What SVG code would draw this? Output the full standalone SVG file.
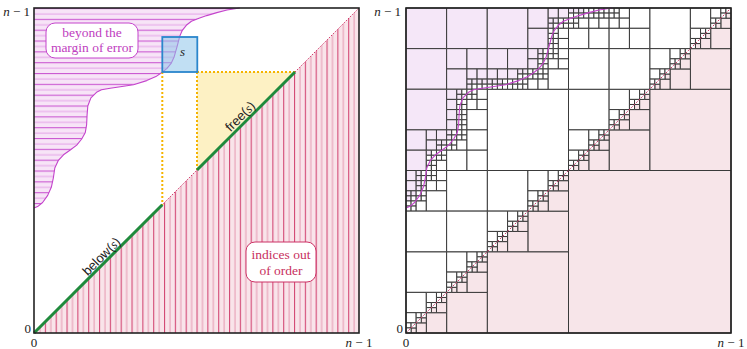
<svg xmlns="http://www.w3.org/2000/svg" width="747" height="349" viewBox="0 0 747 349">
<style>
.w,.p,.v{stroke:#3a3a3a;stroke-width:1;vector-effect:non-scaling-stroke}
.w{fill:#fff}.p{fill:#f7e5e9}.v{fill:#f5e7f8}
.lab{font-family:"Liberation Serif",serif;font-size:13px;fill:#222}
.it{font-style:italic}
.box1{font-family:"Liberation Serif",serif;font-size:13.5px;fill:#c040c0;text-anchor:middle}
.box2{font-family:"Liberation Serif",serif;font-size:13.5px;fill:#c8305e;text-anchor:middle}
.sans{font-family:"Liberation Sans",sans-serif;font-size:13px;fill:#222;text-anchor:middle}
</style>
<defs>
<pattern id="vs" patternUnits="userSpaceOnUse" x="34" y="0" width="10.833" height="10">
<rect width="10.833" height="10" fill="#f9e4ea"/>
<line x1="0.6" y1="0" x2="0.6" y2="10" stroke="#cf3868" stroke-width="1"/>
<line x1="6" y1="0" x2="6" y2="10" stroke="#e597b0" stroke-width="1"/>
</pattern>
<pattern id="hs" patternUnits="userSpaceOnUse" x="0" y="8" width="10" height="10.833">
<rect width="10" height="10.833" fill="#f7e4f7"/>
<line x1="0" y1="0.6" x2="10" y2="0.6" stroke="#c64ace" stroke-width="1"/>
<line x1="0" y1="6" x2="10" y2="6" stroke="#e4a2e8" stroke-width="1"/>
</pattern>
<polyline id="crv" fill="none" points="239.7,8 227,10 216.8,12.6 206.7,15.6 199,18.2 191.4,21.2 186.3,25.3 182.3,30.3 179.7,36.4 177.2,46.1 174.2,56.7 171.1,63.4 167,68.4 162.5,72 155.9,76.6 146.7,80.6 133.5,84.7 120.3,86.7 110.2,88.2 101.5,89.8 96.5,92.3 90.9,97.9 87.8,106 87.1,114.6 86.6,124.8 85.3,132.4 81.7,139 76.7,145.1 70.6,149.7 63.5,154.8 58.4,160.3 54.8,168 53.3,178.1 51.3,187.3 47.7,195.4 42.6,202.5 37.6,206.6 34,208.1"/>
<g id="d1"><rect class="w" width="1" height="1"/></g>
<g id="d2"><rect class="w" width="1" height="1"/><rect class="p" x="1" y="1" width="1" height="1"/><use href="#d1" x="1"/><use href="#d1" y="1"/></g>
<g id="d4"><rect class="w" width="2" height="2"/><rect class="p" x="2" y="2" width="2" height="2"/><use href="#d2" x="2"/><use href="#d2" y="2"/></g>
<g id="d8"><rect class="w" width="4" height="4"/><rect class="p" x="4" y="4" width="4" height="4"/><use href="#d4" x="4"/><use href="#d4" y="4"/></g>
<g id="d16"><rect class="w" width="8" height="8"/><rect class="p" x="8" y="8" width="8" height="8"/><use href="#d8" x="8"/><use href="#d8" y="8"/></g>
</defs>
<rect width="747" height="349" fill="#fff"/>

<g id="left-panel">
<polygon id="out-of-order" points="34,333 359,333 359,8" fill="url(#vs)"/>
<path id="margin" fill="url(#hs)" d="M34,8 L239.7,8 227,10 216.8,12.6 206.7,15.6 199,18.2 191.4,21.2 186.3,25.3 182.3,30.3 179.7,36.4 177.2,46.1 174.2,56.7 171.1,63.4 167,68.4 162.5,72 155.9,76.6 146.7,80.6 133.5,84.7 120.3,86.7 110.2,88.2 101.5,89.8 96.5,92.3 90.9,97.9 87.8,106 87.1,114.6 86.6,124.8 85.3,132.4 81.7,139 76.7,145.1 70.6,149.7 63.5,154.8 58.4,160.3 54.8,168 53.3,178.1 51.3,187.3 47.7,195.4 42.6,202.5 37.6,206.6 34,208.1 Z"/>
<use href="#crv" stroke="#c444cc" stroke-width="1.1" stroke-linejoin="round"/>
<line x1="34" y1="333" x2="359" y2="8" stroke="#d0386a" stroke-width="1" stroke-dasharray="1.5 1.5"/>
<polygon id="free-region" points="197,72 295,72 197,170" fill="#fdf1c4"/>
<g fill="none" stroke="#f5b400" stroke-width="2" stroke-dasharray="2 2">
<line x1="162.3" y1="72" x2="162.3" y2="205"/>
<line x1="197" y1="72" x2="295" y2="72"/>
<line x1="197" y1="72" x2="197" y2="170"/>
</g>
<g stroke="#1f8a3c" stroke-width="3" stroke-linecap="butt">
<line x1="34" y1="333" x2="162.3" y2="204.7"/>
<line x1="197" y1="170" x2="295" y2="72"/>
</g>
<g id="s-node">
<rect x="162.3" y="37" width="35" height="35" fill="#8ec5ea" fill-opacity="0.55" stroke="#2a86cc" stroke-width="1.8"/>
<text x="180" y="56" class="lab it">s</text>
</g>
<g id="margin-label">
<rect x="46" y="23" width="92" height="35" rx="9" fill="#fff" stroke="#c444cc" stroke-width="1"/>
<text class="box1" x="92" y="36.5">beyond the</text>
<text class="box1" x="92" y="52">margin of error</text>
</g>
<g id="order-label">
<rect x="246" y="242" width="70" height="40" rx="9" fill="#fff" stroke="#cc3366" stroke-width="1"/>
<text class="box2" x="281" y="258.5">indices out</text>
<text class="box2" x="281" y="274.5">of order</text>
</g>
<text class="sans" transform="translate(104.5 259.5) rotate(-45)">below(<tspan font-family="Liberation Serif" font-style="italic">s</tspan>)</text>
<text class="sans" transform="translate(243.3 119.5) rotate(-45)">free(<tspan font-family="Liberation Serif" font-style="italic">s</tspan>)</text>
<rect x="34" y="8" width="325" height="325" fill="none" stroke="#222" stroke-width="1.6"/>
<text class="lab" x="30" y="15.5" text-anchor="end"><tspan class="it">n</tspan> − 1</text>
<text class="lab" x="31" y="333" text-anchor="end">0</text>
<text class="lab" x="34" y="346.5" text-anchor="middle">0</text>
<text class="lab" x="359" y="346.5" text-anchor="middle"><tspan class="it">n</tspan> − 1</text>
</g>

<g id="right-panel">
<g transform="translate(406 8) scale(5.078125)">
<rect class="p" x="32" y="32" width="32" height="32"/>
<rect class="p" x="48" y="16" width="16" height="16"/>
<rect class="p" x="16" y="48" width="16" height="16"/>
<use href="#d16" x="48" y="0"/>
<use href="#d16" x="32" y="16"/>
<use href="#d16" x="16" y="32"/>
<use href="#d16" x="0" y="48"/>
<!-- top-left quadrant -->
<rect class="w" x="16" y="16" width="16" height="16"/>
<rect class="v" x="0" y="0" width="8" height="8"/>
<rect class="v" x="8" y="0" width="8" height="8"/>
<rect class="v" x="0" y="8" width="8" height="8"/>
<rect class="v" x="8" y="8" width="4" height="4"/>
<rect class="v" x="12" y="8" width="4" height="4"/>
<rect class="v" x="8" y="12" width="4" height="4"/>
<rect class="v" x="12" y="12" width="2" height="2"/>
<rect class="v" x="14" y="12" width="2" height="2"/>
<rect class="v" x="12" y="14" width="1" height="1"/>
<rect class="v" x="13" y="14" width="1" height="1"/>
<rect class="v" x="12" y="15" width="1" height="1"/>
<rect class="w" x="13" y="15" width="1" height="1"/>
<rect class="v" x="14" y="14" width="1" height="1"/>
<rect class="v" x="15" y="14" width="1" height="1"/>
<rect class="w" x="14" y="15" width="1" height="1"/>
<rect class="w" x="15" y="15" width="1" height="1"/>
<rect class="v" x="16" y="0" width="8" height="8"/>
<rect class="v" x="24" y="0" width="4" height="4"/>
<rect class="v" x="28" y="0" width="2" height="2"/>
<rect class="v" x="30" y="0" width="2" height="2"/>
<rect class="v" x="28" y="2" width="1" height="1"/>
<rect class="v" x="29" y="2" width="1" height="1"/>
<rect class="v" x="28" y="3" width="1" height="1"/>
<rect class="w" x="29" y="3" width="1" height="1"/>
<rect class="w" x="30" y="2" width="1" height="1"/>
<rect class="w" x="31" y="2" width="1" height="1"/>
<rect class="w" x="30" y="3" width="1" height="1"/>
<rect class="w" x="31" y="3" width="1" height="1"/>
<rect class="v" x="24" y="4" width="4" height="4"/>
<rect class="w" x="28" y="4" width="1" height="1"/>
<rect class="w" x="29" y="4" width="1" height="1"/>
<rect class="w" x="28" y="5" width="1" height="1"/>
<rect class="w" x="29" y="5" width="1" height="1"/>
<rect class="w" x="30" y="4" width="2" height="2"/>
<rect class="w" x="28" y="6" width="1" height="1"/>
<rect class="w" x="29" y="6" width="1" height="1"/>
<rect class="w" x="28" y="7" width="1" height="1"/>
<rect class="w" x="29" y="7" width="1" height="1"/>
<rect class="w" x="30" y="6" width="2" height="2"/>
<rect class="v" x="16" y="8" width="4" height="4"/>
<rect class="v" x="20" y="8" width="4" height="4"/>
<rect class="v" x="16" y="12" width="2" height="2"/>
<rect class="v" x="18" y="12" width="2" height="2"/>
<rect class="v" x="16" y="14" width="1" height="1"/>
<rect class="v" x="17" y="14" width="1" height="1"/>
<rect class="w" x="16" y="15" width="1" height="1"/>
<rect class="w" x="17" y="15" width="1" height="1"/>
<rect class="v" x="18" y="14" width="1" height="1"/>
<rect class="w" x="19" y="14" width="1" height="1"/>
<rect class="w" x="18" y="15" width="1" height="1"/>
<rect class="w" x="19" y="15" width="1" height="1"/>
<rect class="v" x="20" y="12" width="2" height="2"/>
<rect class="v" x="22" y="12" width="1" height="1"/>
<rect class="v" x="23" y="12" width="1" height="1"/>
<rect class="w" x="22" y="13" width="1" height="1"/>
<rect class="w" x="23" y="13" width="1" height="1"/>
<rect class="w" x="20" y="14" width="1" height="1"/>
<rect class="w" x="21" y="14" width="1" height="1"/>
<rect class="w" x="20" y="15" width="1" height="1"/>
<rect class="w" x="21" y="15" width="1" height="1"/>
<rect class="w" x="22" y="14" width="1" height="1"/>
<rect class="w" x="23" y="14" width="1" height="1"/>
<rect class="w" x="22" y="15" width="1" height="1"/>
<rect class="w" x="23" y="15" width="1" height="1"/>
<rect class="v" x="24" y="8" width="2" height="2"/>
<rect class="v" x="26" y="8" width="1" height="1"/>
<rect class="w" x="27" y="8" width="1" height="1"/>
<rect class="v" x="26" y="9" width="1" height="1"/>
<rect class="w" x="27" y="9" width="1" height="1"/>
<rect class="v" x="24" y="10" width="2" height="2"/>
<rect class="w" x="26" y="10" width="1" height="1"/>
<rect class="w" x="27" y="10" width="1" height="1"/>
<rect class="w" x="26" y="11" width="1" height="1"/>
<rect class="w" x="27" y="11" width="1" height="1"/>
<rect class="w" x="28" y="8" width="1" height="1"/>
<rect class="w" x="29" y="8" width="1" height="1"/>
<rect class="w" x="28" y="9" width="1" height="1"/>
<rect class="w" x="29" y="9" width="1" height="1"/>
<rect class="w" x="30" y="8" width="2" height="2"/>
<rect class="w" x="28" y="10" width="2" height="2"/>
<rect class="w" x="30" y="10" width="2" height="2"/>
<rect class="w" x="24" y="12" width="1" height="1"/>
<rect class="w" x="25" y="12" width="1" height="1"/>
<rect class="w" x="24" y="13" width="1" height="1"/>
<rect class="w" x="25" y="13" width="1" height="1"/>
<rect class="w" x="26" y="12" width="1" height="1"/>
<rect class="w" x="27" y="12" width="1" height="1"/>
<rect class="w" x="26" y="13" width="1" height="1"/>
<rect class="w" x="27" y="13" width="1" height="1"/>
<rect class="w" x="24" y="14" width="2" height="2"/>
<rect class="w" x="26" y="14" width="2" height="2"/>
<rect class="w" x="28" y="12" width="4" height="4"/>
<rect class="v" x="0" y="16" width="8" height="8"/>
<rect class="v" x="8" y="16" width="2" height="2"/>
<rect class="v" x="10" y="16" width="1" height="1"/>
<rect class="w" x="11" y="16" width="1" height="1"/>
<rect class="v" x="10" y="17" width="1" height="1"/>
<rect class="w" x="11" y="17" width="1" height="1"/>
<rect class="v" x="8" y="18" width="2" height="2"/>
<rect class="w" x="10" y="18" width="1" height="1"/>
<rect class="w" x="11" y="18" width="1" height="1"/>
<rect class="w" x="10" y="19" width="1" height="1"/>
<rect class="w" x="11" y="19" width="1" height="1"/>
<rect class="w" x="12" y="16" width="1" height="1"/>
<rect class="w" x="13" y="16" width="1" height="1"/>
<rect class="w" x="12" y="17" width="1" height="1"/>
<rect class="w" x="13" y="17" width="1" height="1"/>
<rect class="w" x="14" y="16" width="2" height="2"/>
<rect class="w" x="12" y="18" width="2" height="2"/>
<rect class="w" x="14" y="18" width="2" height="2"/>
<rect class="v" x="8" y="20" width="2" height="2"/>
<rect class="w" x="10" y="20" width="1" height="1"/>
<rect class="w" x="11" y="20" width="1" height="1"/>
<rect class="w" x="10" y="21" width="1" height="1"/>
<rect class="w" x="11" y="21" width="1" height="1"/>
<rect class="v" x="8" y="22" width="2" height="2"/>
<rect class="w" x="10" y="22" width="1" height="1"/>
<rect class="w" x="11" y="22" width="1" height="1"/>
<rect class="w" x="10" y="23" width="1" height="1"/>
<rect class="w" x="11" y="23" width="1" height="1"/>
<rect class="w" x="12" y="20" width="4" height="4"/>
<rect class="v" x="0" y="24" width="4" height="4"/>
<rect class="v" x="4" y="24" width="2" height="2"/>
<rect class="v" x="6" y="24" width="2" height="2"/>
<rect class="v" x="4" y="26" width="2" height="2"/>
<rect class="v" x="6" y="26" width="1" height="1"/>
<rect class="v" x="7" y="26" width="1" height="1"/>
<rect class="v" x="6" y="27" width="1" height="1"/>
<rect class="w" x="7" y="27" width="1" height="1"/>
<rect class="v" x="0" y="28" width="4" height="4"/>
<rect class="v" x="4" y="28" width="1" height="1"/>
<rect class="w" x="5" y="28" width="1" height="1"/>
<rect class="w" x="4" y="29" width="1" height="1"/>
<rect class="w" x="5" y="29" width="1" height="1"/>
<rect class="w" x="6" y="28" width="1" height="1"/>
<rect class="w" x="7" y="28" width="1" height="1"/>
<rect class="w" x="6" y="29" width="1" height="1"/>
<rect class="w" x="7" y="29" width="1" height="1"/>
<rect class="w" x="4" y="30" width="1" height="1"/>
<rect class="w" x="5" y="30" width="1" height="1"/>
<rect class="w" x="4" y="31" width="1" height="1"/>
<rect class="w" x="5" y="31" width="1" height="1"/>
<rect class="w" x="6" y="30" width="2" height="2"/>
<rect class="v" x="8" y="24" width="1" height="1"/>
<rect class="w" x="9" y="24" width="1" height="1"/>
<rect class="v" x="8" y="25" width="1" height="1"/>
<rect class="w" x="9" y="25" width="1" height="1"/>
<rect class="w" x="10" y="24" width="1" height="1"/>
<rect class="w" x="11" y="24" width="1" height="1"/>
<rect class="w" x="10" y="25" width="1" height="1"/>
<rect class="w" x="11" y="25" width="1" height="1"/>
<rect class="w" x="8" y="26" width="1" height="1"/>
<rect class="w" x="9" y="26" width="1" height="1"/>
<rect class="w" x="8" y="27" width="1" height="1"/>
<rect class="w" x="9" y="27" width="1" height="1"/>
<rect class="w" x="10" y="26" width="2" height="2"/>
<rect class="w" x="12" y="24" width="4" height="4"/>
<rect class="w" x="8" y="28" width="4" height="4"/>
<rect class="w" x="12" y="28" width="4" height="4"/>
<!-- (32,0) s16 -->
<rect class="v" x="32" y="0" width="1" height="1"/>
<rect class="v" x="33" y="0" width="1" height="1"/>
<rect class="w" x="32" y="1" width="1" height="1"/>
<rect class="w" x="33" y="1" width="1" height="1"/>
<rect class="v" x="34" y="0" width="1" height="1"/>
<rect class="w" x="35" y="0" width="1" height="1"/>
<rect class="w" x="34" y="1" width="1" height="1"/>
<rect class="w" x="35" y="1" width="1" height="1"/>
<rect class="w" x="32" y="2" width="1" height="1"/>
<rect class="w" x="33" y="2" width="1" height="1"/>
<rect class="w" x="32" y="3" width="1" height="1"/>
<rect class="w" x="33" y="3" width="1" height="1"/>
<rect class="w" x="34" y="2" width="2" height="2"/>
<rect class="w" x="36" y="0" width="1" height="1"/>
<rect class="w" x="37" y="0" width="1" height="1"/>
<rect class="w" x="36" y="1" width="1" height="1"/>
<rect class="w" x="37" y="1" width="1" height="1"/>
<rect class="w" x="38" y="0" width="1" height="1"/>
<rect class="w" x="39" y="0" width="1" height="1"/>
<rect class="w" x="38" y="1" width="1" height="1"/>
<rect class="w" x="39" y="1" width="1" height="1"/>
<rect class="w" x="36" y="2" width="2" height="2"/>
<rect class="w" x="38" y="2" width="2" height="2"/>
<rect class="w" x="32" y="4" width="4" height="4"/>
<rect class="w" x="36" y="4" width="4" height="4"/>
<rect class="w" x="40" y="0" width="1" height="1"/>
<rect class="w" x="41" y="0" width="1" height="1"/>
<rect class="w" x="40" y="1" width="1" height="1"/>
<rect class="w" x="41" y="1" width="1" height="1"/>
<rect class="w" x="42" y="0" width="2" height="2"/>
<rect class="w" x="40" y="2" width="2" height="2"/>
<rect class="w" x="42" y="2" width="2" height="2"/>
<rect class="w" x="44" y="0" width="4" height="4"/>
<rect class="w" x="40" y="4" width="4" height="4"/>
<rect class="w" x="44" y="4" width="4" height="4"/>
<rect class="w" x="32" y="8" width="8" height="8"/>
<rect class="w" x="40" y="8" width="8" height="8"/>
<!-- (0,32) s16 -->
<rect class="v" x="0" y="32" width="2" height="2"/>
<rect class="v" x="2" y="32" width="1" height="1"/>
<rect class="w" x="3" y="32" width="1" height="1"/>
<rect class="v" x="2" y="33" width="1" height="1"/>
<rect class="w" x="3" y="33" width="1" height="1"/>
<rect class="v" x="0" y="34" width="2" height="2"/>
<rect class="v" x="2" y="34" width="1" height="1"/>
<rect class="w" x="3" y="34" width="1" height="1"/>
<rect class="v" x="2" y="35" width="1" height="1"/>
<rect class="w" x="3" y="35" width="1" height="1"/>
<rect class="w" x="4" y="32" width="1" height="1"/>
<rect class="w" x="5" y="32" width="1" height="1"/>
<rect class="w" x="4" y="33" width="1" height="1"/>
<rect class="w" x="5" y="33" width="1" height="1"/>
<rect class="w" x="6" y="32" width="2" height="2"/>
<rect class="w" x="4" y="34" width="2" height="2"/>
<rect class="w" x="6" y="34" width="2" height="2"/>
<rect class="v" x="0" y="36" width="1" height="1"/>
<rect class="v" x="1" y="36" width="1" height="1"/>
<rect class="v" x="0" y="37" width="1" height="1"/>
<rect class="w" x="1" y="37" width="1" height="1"/>
<rect class="w" x="2" y="36" width="1" height="1"/>
<rect class="w" x="3" y="36" width="1" height="1"/>
<rect class="w" x="2" y="37" width="1" height="1"/>
<rect class="w" x="3" y="37" width="1" height="1"/>
<rect class="w" x="0" y="38" width="1" height="1"/>
<rect class="w" x="1" y="38" width="1" height="1"/>
<rect class="w" x="0" y="39" width="1" height="1"/>
<rect class="w" x="1" y="39" width="1" height="1"/>
<rect class="w" x="2" y="38" width="2" height="2"/>
<rect class="w" x="4" y="36" width="4" height="4"/>
<rect class="w" x="8" y="32" width="8" height="8"/>
<rect class="w" x="0" y="40" width="8" height="8"/>
<rect class="w" x="8" y="40" width="8" height="8"/>
</g>
<use href="#crv" transform="translate(372 0)" stroke="#c444cc" stroke-width="1.1" stroke-linejoin="round"/>
<line x1="406" y1="333" x2="731" y2="8" stroke="#d0386a" stroke-width="1" stroke-dasharray="2 1.5"/>
<rect x="406" y="8" width="325" height="325" fill="none" stroke="#222" stroke-width="1.6"/>
<text class="lab" x="401" y="15.5" text-anchor="end"><tspan class="it">n</tspan> − 1</text>
<text class="lab" x="403" y="333" text-anchor="end">0</text>
<text class="lab" x="406" y="346.5" text-anchor="middle">0</text>
<text class="lab" x="731" y="346.5" text-anchor="middle"><tspan class="it">n</tspan> − 1</text>
</g>
</svg>
